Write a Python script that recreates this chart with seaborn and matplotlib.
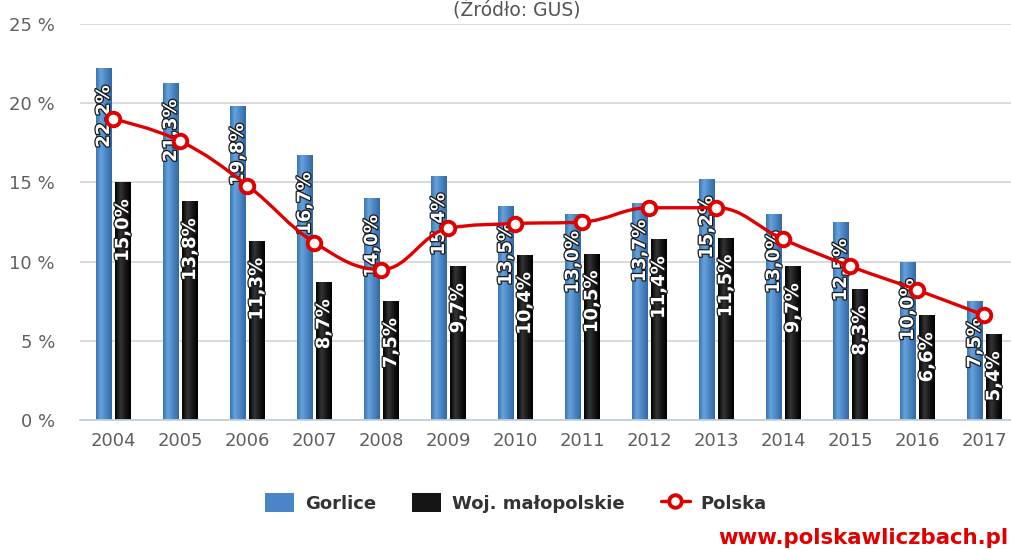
import numpy as np
import pandas as pd
import matplotlib
matplotlib.use("Agg")
import matplotlib.pyplot as plt
import seaborn as sns
from matplotlib.path import Path
from matplotlib.patches import PathPatch, Patch
from matplotlib.lines import Line2D
from matplotlib.colors import LinearSegmentedColormap
import matplotlib.patheffects as pe

years = ["2004", "2005", "2006", "2007", "2008", "2009", "2010",
         "2011", "2012", "2013", "2014", "2015", "2016", "2017"]
gorlice = [22.2, 21.3, 19.8, 16.7, 14.0, 15.4, 13.5, 13.0, 13.7, 15.2, 13.0, 12.5, 10.0, 7.5]
malopolskie = [15.0, 13.8, 11.3, 8.7, 7.5, 9.7, 10.4, 10.5, 11.4, 11.5, 9.7, 8.3, 6.6, 5.4]
polska = [19.0, 17.6, 14.8, 11.2, 9.5, 12.1, 12.4, 12.5, 13.4, 13.4, 11.4, 9.7, 8.2, 6.6]
series_names = ["Gorlice", "Woj. małopolskie", "Polska"]
yticks = [0, 5, 10, 15, 20, 25]
title = "(Źródło: GUS)"
watermark = "www.polskawliczbach.pl"

BLUE = "#4a86c5"
BLACK = "#141414"
RED = "#e10000"
GRAY = "#606060"

sns.set_theme(style="white")
plt.rcParams["font.family"] = ["DejaVu Sans"]

W, H = 1012, 550
fig = plt.figure(figsize=(W / 100, H / 100), dpi=100)
ax = fig.add_axes([80 / W, 130 / H, 938 / W, 396 / H])

df = pd.DataFrame({
    "Rok": years * 2,
    "value": gorlice + malopolskie,
    "series": [series_names[0]] * len(years) + [series_names[1]] * len(years),
})
sns.barplot(data=df, x="Rok", y="value", hue="series", palette=[BLUE, BLACK],
            width=0.567, gap=0.21, saturation=1, legend=False, ax=ax, zorder=2,
            linewidth=0, edgecolor="none")

cmap_blue = LinearSegmentedColormap.from_list(
    "b", [(0, "#3a74b1"), (0.3, "#68a2da"), (0.6, "#4d89c7"), (1, "#3269a3")])
cmap_black = LinearSegmentedColormap.from_list(
    "k", [(0, "#000000"), (0.35, "#353535"), (0.7, "#141414"), (1, "#000000")])
grad = np.linspace(0, 1, 64).reshape(1, -1)

containers = ax.containers
for cont, cmap, vals in zip(containers, [cmap_blue, cmap_black], [gorlice, malopolskie]):
    for patch, v in zip(cont.patches, vals):
        x0, y0 = patch.get_x(), patch.get_y()
        w, h = patch.get_width(), patch.get_height()
        patch.set_linewidth(0)
        im = ax.imshow(grad, cmap=cmap, extent=[x0, x0 + w, y0, y0 + h],
                       aspect="auto", origin="lower", zorder=2.1, interpolation="bicubic")
        im.set_clip_path(patch)
        txt = ax.annotate(f"{v:.1f}%".replace(".", ","), xy=(x0 + w / 2, v),
                          xytext=(0, -12.2), textcoords="offset points",
                          rotation=90, ha="center", va="top", color="white",
                          fontsize=13, fontweight="bold", zorder=3)
        txt.set_path_effects([pe.withStroke(linewidth=1.8, foreground="#1a1a1a")])

# smooth (Highcharts-style) spline for Polska
xs = np.arange(len(years), dtype=float)
ys = np.array(polska, dtype=float)
n = len(xs)
smooth = 1.5
lc = [None] * n
rc = [None] * n
for i in range(1, n - 1):
    px, py = xs[i], ys[i]
    lx, ly = xs[i - 1], ys[i - 1]
    nx, ny = xs[i + 1], ys[i + 1]
    d = smooth + 1
    lcx = (smooth * px + lx) / d
    lcy = (smooth * py + ly) / d
    rcx = (smooth * px + nx) / d
    rcy = (smooth * py + ny) / d
    if rcx != lcx:
        corr = ((rcy - lcy) * (rcx - px)) / (rcx - lcx) + py - rcy
        lcy += corr
        rcy += corr
    if lcy > ly and lcy > py:
        lcy = max(ly, py); rcy = 2 * py - lcy
    elif lcy < ly and lcy < py:
        lcy = min(ly, py); rcy = 2 * py - lcy
    if rcy > ny and rcy > py:
        rcy = max(ny, py); lcy = 2 * py - rcy
    elif rcy < ny and rcy < py:
        rcy = min(ny, py); lcy = 2 * py - rcy
    lc[i] = (lcx, lcy)
    rc[i] = (rcx, rcy)

verts = [(xs[0], ys[0])]
codes = [Path.MOVETO]
for i in range(1, n):
    c1 = rc[i - 1] if rc[i - 1] is not None else (xs[i - 1], ys[i - 1])
    c2 = lc[i] if lc[i] is not None else (xs[i], ys[i])
    verts += [c1, c2, (xs[i], ys[i])]
    codes += [Path.CURVE4] * 3
ax.add_patch(PathPatch(Path(verts, codes), facecolor="none", edgecolor=RED,
                       lw=2.4, zorder=4, capstyle="round", joinstyle="round"))

pdf = pd.DataFrame({"Rok": xs, "value": ys})
sns.scatterplot(data=pdf, x="Rok", y="value", marker="o", s=95, color="white",
                edgecolor=RED, linewidth=2.8, zorder=5, ax=ax, legend=False)

ax.set_xlim(-0.5, len(years) - 0.5)
ax.set_ylim(0, 25)
ax.set_yticks(yticks)
ax.set_yticklabels([f"{t} %" for t in yticks])
ax.set_xticks(range(len(years)))
ax.set_xticklabels(years)
ax.set_xticks(np.arange(-0.5, len(years), 1.0), minor=True)
ax.tick_params(axis="x", which="major", length=0, pad=9, labelsize=13, labelcolor=GRAY)
ax.tick_params(axis="x", which="minor", length=10, width=1.2, color="#c0d0e0", direction="out")
ax.tick_params(axis="y", length=0, pad=18, labelsize=13, labelcolor=GRAY)
for lab in ax.get_yticklabels():
    lab.set_horizontalalignment("right")
ax.set_xlabel("")
ax.set_ylabel("")
ax.yaxis.grid(True, color="#d8d8d8", lw=1.3)
ax.xaxis.grid(False)
ax.set_axisbelow(True)
for s in ["top", "right", "left"]:
    ax.spines[s].set_visible(False)
ax.spines["bottom"].set_color("#c0d0e0")
ax.spines["bottom"].set_linewidth(1.3)
ax.spines["bottom"].set_zorder(6)

fig.text(517 / W, 1 - 16 / H, title, ha="center", va="baseline", fontsize=13.5, color="#555555")

handles = [
    Patch(facecolor=BLUE, edgecolor="none"),
    Patch(facecolor=BLACK, edgecolor="none"),
    Line2D([0], [0], color=RED, lw=2.4, marker="o", markersize=9,
           markerfacecolor="white", markeredgecolor=RED, markeredgewidth=2.8),
]
leg = fig.legend(handles, series_names, loc="center", bbox_to_anchor=(516 / W, 1 - 503 / H),
                 ncol=3, frameon=False, handlelength=1.6, handleheight=1.2,
                 columnspacing=2.0, handletextpad=0.6,
                 prop={"weight": "bold", "size": 13})
for t in leg.get_texts():
    t.set_color("#333333")

fig.text(1008 / W, 1 - 538 / H, watermark, ha="right", va="center", fontsize=15.3,
         fontweight="bold", color="#e00000")

fig.savefig("out.png", dpi=100)
